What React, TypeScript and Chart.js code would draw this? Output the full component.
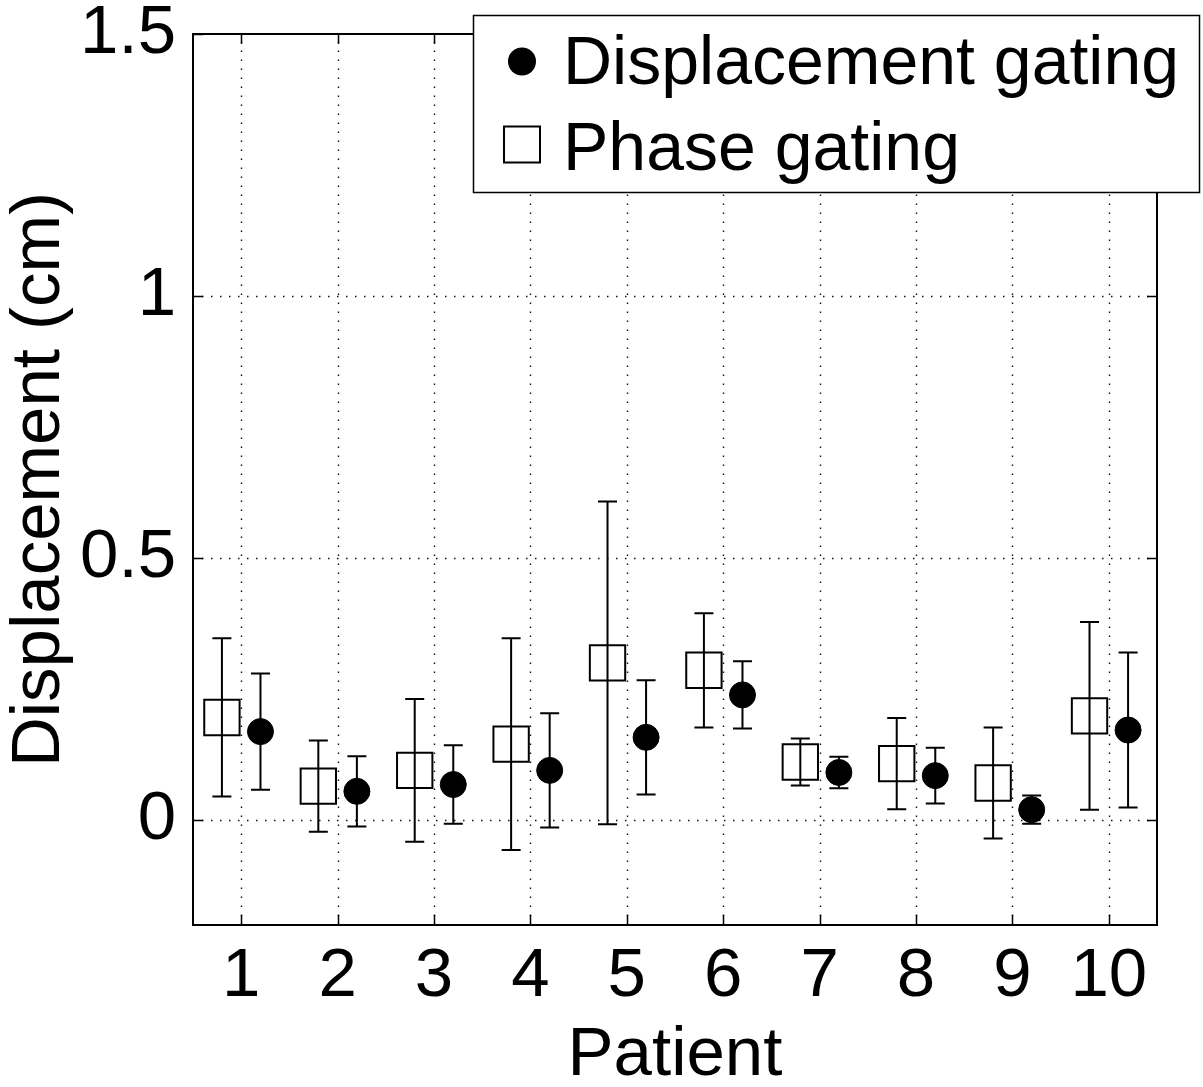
import { useEffect, useRef } from 'react';
import { Chart, registerables } from 'chart.js';

Chart.register(...registerables);

// Per-patient mean displacement (cm) and standard deviation for each gating method
const patients = [1, 2, 3, 4, 5, 6, 7, 8, 9, 10];
const displacementMean = [0.169, 0.055, 0.068, 0.095, 0.158, 0.239, 0.091, 0.085, 0.020, 0.172];
const displacementSd = [0.111, 0.067, 0.075, 0.109, 0.109, 0.064, 0.030, 0.053, 0.027, 0.148];
const phaseMean = [0.196, 0.065, 0.095, 0.145, 0.300, 0.286, 0.111, 0.108, 0.071, 0.199];
const phaseSd = [0.151, 0.087, 0.136, 0.202, 0.308, 0.109, 0.045, 0.087, 0.106, 0.179];
const yTicks = [0, 0.5, 1, 1.5];
const seriesLabels = ['Displacement gating', 'Phase gating'];
const seriesOffsets = [0.2, -0.2];

const FONT = '"Liberation Sans", Arial, Helvetica, sans-serif';

// Dotted grid, inward tick marks and the closed axes box
const framePlugin = {
  id: 'frame',
  beforeDatasetsDraw(chart: any) {
    const { ctx, chartArea: a, scales } = chart;
    const x = scales.x;
    const y = scales.y;
    ctx.save();
    ctx.strokeStyle = '#111';
    ctx.lineWidth = 1.4;
    ctx.setLineDash([1.5, 7.5]);
    for (const p of patients) {
      const px = Math.round(x.getPixelForValue(p)) + 0.5;
      ctx.beginPath();
      ctx.moveTo(px, a.bottom);
      ctx.lineTo(px, a.top);
      ctx.stroke();
    }
    for (const v of yTicks) {
      const py = Math.round(y.getPixelForValue(v)) + 0.5;
      if (py <= a.top + 2) continue;
      ctx.beginPath();
      ctx.moveTo(a.left, py);
      ctx.lineTo(a.right, py);
      ctx.stroke();
    }
    ctx.setLineDash([]);
    ctx.strokeStyle = '#000';
    ctx.lineWidth = 1.5;
    const tick = 10;
    for (const p of patients) {
      const px = Math.round(x.getPixelForValue(p)) + 0.5;
      ctx.beginPath();
      ctx.moveTo(px, a.bottom);
      ctx.lineTo(px, a.bottom - tick);
      ctx.moveTo(px, a.top);
      ctx.lineTo(px, a.top + tick);
      ctx.stroke();
    }
    for (const v of yTicks) {
      const py = Math.round(y.getPixelForValue(v)) + 0.5;
      ctx.beginPath();
      ctx.moveTo(a.left, py);
      ctx.lineTo(a.left + tick, py);
      ctx.moveTo(a.right, py);
      ctx.lineTo(a.right - tick, py);
      ctx.stroke();
    }
    ctx.lineWidth = 2;
    ctx.strokeRect(a.left, a.top, a.right - a.left, a.bottom - a.top);
    ctx.restore();
  },
};

// Mean ± SD whiskers drawn under each marker
const errorBarPlugin = {
  id: 'errorBars',
  beforeDatasetsDraw(chart: any) {
    const { ctx, scales } = chart;
    const y = scales.y;
    ctx.save();
    ctx.strokeStyle = '#000';
    ctx.lineWidth = 2;
    chart.data.datasets.forEach((ds: any, di: number) => {
      const meta = chart.getDatasetMeta(di);
      meta.data.forEach((el: any, i: number) => {
        const m = ds.data[i].y;
        const sd = ds.errors[i];
        const top = y.getPixelForValue(m + sd);
        const bot = y.getPixelForValue(m - sd);
        const cx = el.x;
        const cap = 9.5;
        ctx.beginPath();
        ctx.moveTo(cx, top);
        ctx.lineTo(cx, bot);
        ctx.moveTo(cx - cap, top);
        ctx.lineTo(cx + cap, top);
        ctx.moveTo(cx - cap, bot);
        ctx.lineTo(cx + cap, bot);
        ctx.stroke();
      });
    });
    ctx.restore();
  },
};

// Boxed legend in the upper right, overlapping the top axis
const legendPlugin = {
  id: 'boxLegend',
  afterDraw(chart: any) {
    const { ctx } = chart;
    const box = { left: 473, top: 15, right: 1199, bottom: 192 };
    ctx.save();
    ctx.fillStyle = '#fff';
    ctx.fillRect(box.left, box.top, box.right - box.left, box.bottom - box.top);
    ctx.strokeStyle = '#000';
    ctx.lineWidth = 1.5;
    ctx.strokeRect(box.left + 0.5, box.top + 0.5, box.right - box.left, box.bottom - box.top);

    ctx.font = `68px ${FONT}`;
    ctx.textAlign = 'left';
    ctx.textBaseline = 'alphabetic';
    ctx.fillStyle = '#000';
    const rows = [
      { cy: 61.5, baseline: 84 },
      { cy: 144.5, baseline: 170 },
    ];
    chart.data.datasets.forEach((ds: any, i: number) => {
      const r = rows[i];
      const mx = 522;
      if (ds.pointStyle === 'circle') {
        ctx.beginPath();
        ctx.arc(mx, r.cy, 14, 0, Math.PI * 2);
        ctx.fill();
      } else {
        ctx.lineWidth = 2;
        ctx.strokeRect(mx - 18, r.cy - 18, 36, 36);
      }
      ctx.fillText(ds.label, 563, r.baseline);
    });
    ctx.restore();
  },
};

export default function App() {
  const canvasRef = useRef<HTMLCanvasElement>(null);

  useEffect(() => {
    if (!canvasRef.current) return;
    const chart = new Chart(canvasRef.current, {
      type: 'scatter',
      data: {
        datasets: [
          {
            label: seriesLabels[0],
            data: patients.map((p, i) => ({ x: p + seriesOffsets[0], y: displacementMean[i] })),
            errors: displacementSd,
            pointStyle: 'circle',
            pointRadius: 13,
            pointBackgroundColor: '#000',
            pointBorderColor: '#000',
            pointBorderWidth: 1,
          } as any,
          {
            label: seriesLabels[1],
            data: patients.map((p, i) => ({ x: p + seriesOffsets[1], y: phaseMean[i] })),
            errors: phaseSd,
            pointStyle: 'rect',
            pointRadius: 25,
            pointBackgroundColor: 'rgba(0,0,0,0)',
            pointBorderColor: '#000',
            pointBorderWidth: 2,
          } as any,
        ],
      },
      options: {
        animation: false,
        responsive: true,
        maintainAspectRatio: false,
        events: [],
        layout: { padding: { top: 34, right: 46, left: 0, bottom: 0 } },
        plugins: {
          legend: { display: false },
          tooltip: { enabled: false },
        },
        scales: {
          x: {
            type: 'linear',
            min: 0.5,
            max: 10.5,
            grid: { display: false },
            border: { display: false },
            afterBuildTicks: (s: any) => {
              s.ticks = patients.map((v) => ({ value: v }));
            },
            afterFit: (s: any) => {
              s.height = 162;
              s.paddingLeft = 0;
              s.paddingRight = 0;
            },
            ticks: {
              color: '#000',
              padding: 3,
              maxRotation: 0,
              autoSkip: false,
              font: { family: FONT, size: 69, lineHeight: 1.2 },
              callback: (v: any) => String(v),
            },
            title: {
              display: true,
              text: 'Patient',
              color: '#000',
              padding: 0,
              font: { family: FONT, size: 69, lineHeight: 0.9 },
            },
          },
          y: {
            type: 'linear',
            min: -0.2,
            max: 1.5,
            grid: { display: false },
            border: { display: false },
            afterBuildTicks: (s: any) => {
              s.ticks = yTicks.map((v) => ({ value: v }));
            },
            afterFit: (s: any) => {
              s.width = 193;
              s.paddingTop = 0;
              s.paddingBottom = 0;
            },
            ticks: {
              color: '#000',
              padding: 9,
              font: { family: FONT, size: 69, lineHeight: 1.2 },
              callback: (v: any) => String(v),
            },
            title: {
              display: true,
              text: 'Displacement (cm)',
              color: '#000',
              padding: 0,
              font: { family: FONT, size: 69, lineHeight: 1.16 },
            },
          },
        },
      } as any,
      plugins: [framePlugin, errorBarPlugin, legendPlugin],
    });
    return () => chart.destroy();
  }, []);

  return (
    <div style={{ position: 'absolute', left: 0, top: 0, width: 1203, height: 1087, background: '#fff' }}>
      <canvas ref={canvasRef} />
    </div>
  );
}
